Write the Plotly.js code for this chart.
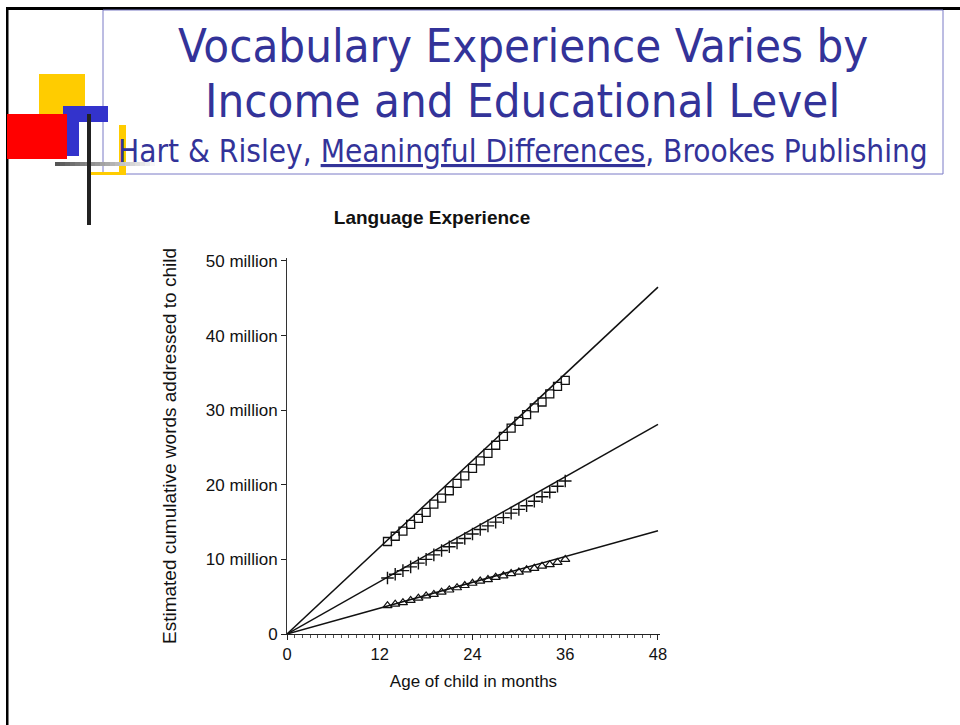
<!DOCTYPE html>
<html>
<head>
<meta charset="utf-8">
<script src="https://cdn.plot.ly/plotly-3.0.1.min.js"></script>
<style>
  html, body { margin: 0; padding: 0; background: #fff; }
  #chart { width: 960px; height: 725px; }
</style>
</head>
<body>
<div id="chart"></div>
<script>
// ---- data (values in millions of words) ----
const months = [13,14,15,16,17,18,19,20,21,22,23,24,25,26,27,28,29,30,31,32,33,34,35,36];
const professional = [12.4,13.1,13.8,14.7,15.5,16.3,17.4,18.2,19.2,20.2,21.2,22.2,23.2,24.2,25.3,26.5,27.6,28.5,29.4,30.3,31.1,32.2,33.2,34.0];
const workingClass = [7.5,8.0,8.5,9.0,9.5,10.0,10.6,11.2,11.7,12.2,12.8,13.4,14.0,14.5,15.0,15.6,16.2,16.7,17.2,17.8,18.4,19.0,19.8,20.5];
const welfare = [3.8,4.0,4.2,4.5,4.8,5.1,5.3,5.6,5.9,6.2,6.5,6.8,7.1,7.3,7.6,7.8,8.1,8.3,8.6,8.8,9.1,9.3,9.6,10.0];

const fitMonths = [0, 48];
const professionalFit = [0, 46.5];
const workingClassFit = [0, 28.1];
const welfareFit = [0, 13.85];

const groupNames = ['Professional', 'Working-class', 'Welfare'];
const labelY = [48.9, 30.2, 15.1];

const xTicks = [0, 12, 24, 36, 48];
const yTicks = [0, 10, 20, 30, 40, 50];
const yTickText = ['0', '10 million', '20 million', '30 million', '40 million', '50 million'];

// ---- geometry helpers (pixel -> paper) ----
const L = 287, R = 660, T = 258, B = 634;
const px = v => (v - L) / (R - L);
const py = v => (B - v) / (B - T);

function rect(x0, y0, x1, y1, color, extra) {
  return Object.assign({
    type: 'rect', xref: 'paper', yref: 'paper',
    x0: px(x0), x1: px(x1), y0: py(y1), y1: py(y0),
    fillcolor: color, line: {width: 0}, layer: 'above'
  }, extra || {});
}

const shapes = [];
// slide frame
shapes.push(rect(6, 7, 960, 10, '#000'));
shapes.push(rect(6, 7, 8.5, 725, '#000'));
// title box
shapes.push({type: 'rect', xref: 'paper', yref: 'paper', x0: px(103), x1: px(943), y0: py(174), y1: py(10),
  fillcolor: 'rgba(0,0,0,0)', line: {color: '#7b7bc6', width: 1}, layer: 'above'});
// decorative blocks
shapes.push(rect(39, 74, 85, 114, '#ffcc00'));
shapes.push(rect(63, 106, 108, 122, '#3333cc'));
shapes.push(rect(63, 106, 79, 156, '#3333cc'));
shapes.push(rect(7, 114, 67, 159, '#ff0000'));
shapes.push(rect(119, 125, 126, 175, '#ffcc00'));
shapes.push(rect(91, 172, 126, 175, '#ffcc00'));
// grey fading bar
const gradSteps = 21;
for (let i = 0; i < gradSteps; i++) {
  const x0 = 55 + i * 5, x1 = x0 + 5;
  const g = Math.round(85 + (255 - 85) * (i / (gradSteps - 1)));
  shapes.push(rect(x0, 162, x1, 166, `rgb(${g},${g},${g})`));
}
shapes.push(rect(87, 114, 91, 225, '#222'));

const chartFont = 'Liberation Sans, Arial, Helvetica, sans-serif';
const titleFont = 'DejaVu Sans Condensed, DejaVu Sans, Verdana, sans-serif';
const titleColor = '#333399';

const annotations = [
  {xref: 'paper', yref: 'paper', x: px(523), y: py(45), xanchor: 'center', yanchor: 'middle',
   text: 'Vocabulary Experience Varies by', showarrow: false,
   font: {family: titleFont, size: 47, color: titleColor}},
  {xref: 'paper', yref: 'paper', x: px(522), y: py(100), xanchor: 'center', yanchor: 'middle',
   text: 'Income and Educational Level', showarrow: false,
   font: {family: titleFont, size: 47, color: titleColor}},
  {xref: 'paper', yref: 'paper', x: px(523), y: py(151), xanchor: 'center', yanchor: 'middle',
   text: 'Hart &amp; Risley, <u>Meaningful Differences</u>, Brookes Publishing', showarrow: false,
   font: {family: titleFont, size: 31.3, color: titleColor}}
];
groupNames.forEach((name, i) => {
  annotations.push({xref: 'x', yref: 'y', x: 49.8, y: labelY[i], xanchor: 'left', yanchor: 'middle',
    text: name, showarrow: false, font: {family: chartFont, size: 16, color: '#111'}});
});

const lineStyle = {color: '#111', width: 1.5};
const traces = [
  {x: fitMonths, y: professionalFit, mode: 'lines', line: lineStyle, hoverinfo: 'skip'},
  {x: fitMonths, y: workingClassFit, mode: 'lines', line: lineStyle, hoverinfo: 'skip'},
  {x: fitMonths, y: welfareFit, mode: 'lines', line: lineStyle, hoverinfo: 'skip'},
  {x: months, y: professional, mode: 'markers', name: groupNames[0],
   marker: {symbol: 'square-open', size: 8, color: '#111', line: {width: 1.3}}},
  {x: months, y: workingClass, mode: 'markers', name: groupNames[1],
   marker: {symbol: 'cross-thin-open', size: 9, color: '#111', line: {width: 1.4, color: '#111'}}},
  {x: months, y: welfare, mode: 'markers', name: groupNames[2],
   marker: {symbol: 'triangle-up-open', size: 8, color: '#111', line: {width: 1.2}}}
];

const layout = {
  width: 960, height: 725,
  margin: {l: L, r: 960 - R, t: T, b: 725 - B, pad: 0},
  paper_bgcolor: '#fff', plot_bgcolor: '#fff',
  showlegend: false,
  font: {family: chartFont, size: 16, color: '#111'},
  title: {text: '<b>Language Experience</b>', x: 432 / 960, xanchor: 'center',
          y: 1 - 217 / 725, yanchor: 'middle', font: {family: chartFont, size: 19, color: '#111'}},
  xaxis: {
    range: [0, 48.26], tickvals: xTicks, ticks: 'outside', ticklen: 5, tickcolor: '#222',
    showline: true, linecolor: '#222', linewidth: 1, showgrid: false, zeroline: false,
    tickfont: {size: 16.5, color: '#111'},
    minor: {dtick: 1, ticks: 'outside', ticklen: 3, tickcolor: '#555', showgrid: false},
    title: {text: 'Age of child in months', font: {size: 17, color: '#111'}, standoff: 13}
  },
  yaxis: {
    range: [0, 50.4], tickvals: yTicks, ticktext: yTickText, ticks: 'outside', ticklen: 5, tickcolor: '#222',
    showline: true, linecolor: '#333', linewidth: 1, showgrid: false, zeroline: false,
    tickfont: {size: 17, color: '#111'},
    title: {text: 'Estimated cumulative words addressed to child', font: {size: 19, color: '#111'}, standoff: 24}
  },
  shapes: shapes,
  annotations: annotations
};

Plotly.newPlot('chart', traces, layout, {displayModeBar: false, staticPlot: true});
</script>
</body>
</html>
